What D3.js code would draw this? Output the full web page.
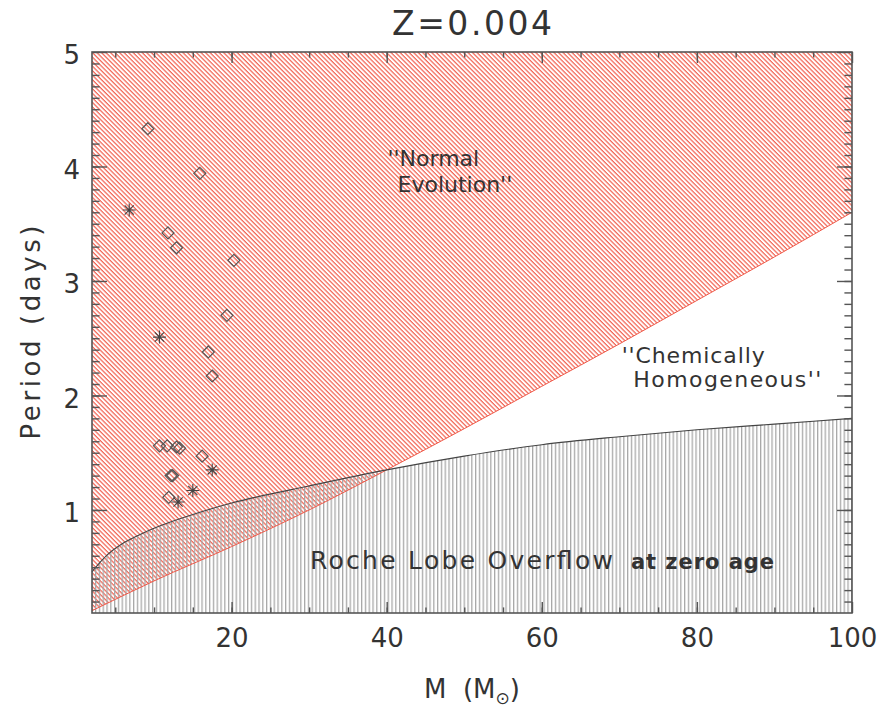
<!DOCTYPE html>
<html>
<head>
<meta charset="utf-8">
<script src="https://cdn.jsdelivr.net/npm/d3@7"></script>
<style>
  body { margin: 0; background: #fff; }
  text { font-family: "DejaVu Sans", sans-serif; fill: #333; }
</style>
</head>
<body>
<svg class="chart"></svg>
<script>
// period vs mass, Z=0.004
var width = 882,
    height = 708;
var margin = {left: 92, right: 30, top: 52, bottom: 95};

// lower edge of the "normal evolution" zone
var normalM = [2, 10, 20, 30, 40, 50, 60, 70, 80, 90, 100];
var normalP = [0.12, 0.38, 0.68, 1.00, 1.35, 1.71, 2.08, 2.45, 2.83, 3.21, 3.60];

// Roche lobe overflow at zero age
var rocheM = [2, 3, 4, 6, 8, 10, 15, 20, 30, 40, 50, 60, 70, 80, 90, 100];
var rocheP = [0.46, 0.54, 0.61, 0.71, 0.78, 0.84, 0.96, 1.06, 1.21, 1.35, 1.47, 1.57, 1.64, 1.70, 1.75, 1.80];

// observed systems
var diamondM = [9.2, 15.9, 11.8, 12.9, 20.3, 19.4, 17.0, 17.5, 10.7, 11.7, 12.9, 13.3, 16.2, 12.2, 12.4, 11.9];
var diamondP = [4.33, 3.94, 3.42, 3.29, 3.18, 2.70, 2.38, 2.17, 1.56, 1.56, 1.55, 1.54, 1.47, 1.30, 1.30, 1.11];
var starM = [6.8, 10.7, 17.5, 15.0, 13.1];
var starP = [3.62, 2.51, 1.35, 1.17, 1.07];

var xTicks = [20, 40, 60, 80, 100];
var yTicks = [1, 2, 3, 4, 5];

var x = d3.scaleLinear().domain([2, 100]).range([margin.left, width - margin.right]);
var y = d3.scaleLinear().domain([0.1, 5]).range([height - margin.bottom, margin.top]);

var chart = d3.select(".chart")
    .attr("width", width)
    .attr("height", height);

var defs = chart.append("defs");

var red = defs.append("pattern") //diagonal red hatch
    .attr("id", "redHatch")
    .attr("patternUnits", "userSpaceOnUse")
    .attr("width", 3.2)
    .attr("height", 3.2)
    .attr("patternTransform", "rotate(45)");
red.append("rect")
    .attr("width", 3.2)
    .attr("height", 1.25)
    .attr("fill", "#f26656");

var grey = defs.append("pattern") //vertical grey hatch
    .attr("id", "greyHatch")
    .attr("patternUnits", "userSpaceOnUse")
    .attr("width", 3.8)
    .attr("height", 10);
grey.append("rect")
    .attr("width", 1.3)
    .attr("height", 10)
    .attr("fill", "#a8a8a8");

var normal = normalM.map(function(m, i) { return [m, normalP[i]]; });
var roche = rocheM.map(function(m, i) { return [m, rocheP[i]]; });

var redArea = d3.area()
    .x(function(d) { return x(d[0]); })
    .y0(y(5))
    .y1(function(d) { return y(d[1]); })
    .curve(d3.curveMonotoneX);

var greyArea = d3.area()
    .x(function(d) { return x(d[0]); })
    .y0(y(0.1))
    .y1(function(d) { return y(d[1]); })
    .curve(d3.curveMonotoneX);

var line = d3.line()
    .x(function(d) { return x(d[0]); })
    .y(function(d) { return y(d[1]); })
    .curve(d3.curveMonotoneX);

chart.append("path")
    .attr("d", redArea(normal))
    .attr("fill", "url(#redHatch)");

chart.append("path")
    .attr("d", greyArea(roche))
    .attr("fill", "url(#greyHatch)");

chart.append("path")
    .attr("d", line(normal))
    .attr("fill", "none")
    .attr("stroke", "#f05a4a")
    .attr("stroke-width", 1);

chart.append("path")
    .attr("d", line(roche))
    .attr("fill", "none")
    .attr("stroke", "#444")
    .attr("stroke-width", 1.1);

// markers
chart.selectAll(".diamond")
    .data(diamondM)
  .enter().append("path")
    .attr("class", "diamond")
    .attr("d", function(d, i) {
      var cx = x(d), cy = y(diamondP[i]), r = 6;
      return "M" + cx + "," + (cy - r) + "L" + (cx + r) + "," + cy +
             "L" + cx + "," + (cy + r) + "L" + (cx - r) + "," + cy + "Z";
    })
    .attr("fill", "none")
    .attr("stroke", "#555")
    .attr("stroke-width", 1.2);

chart.selectAll(".star")
    .data(starM)
  .enter().append("path")
    .attr("class", "star")
    .attr("d", function(d, i) {
      var cx = x(d), cy = y(starP[i]), r = 6.5, s = 4.6;
      return "M" + (cx - r) + "," + cy + "L" + (cx + r) + "," + cy +
             "M" + cx + "," + (cy - r) + "L" + cx + "," + (cy + r) +
             "M" + (cx - s) + "," + (cy - s) + "L" + (cx + s) + "," + (cy + s) +
             "M" + (cx - s) + "," + (cy + s) + "L" + (cx + s) + "," + (cy - s);
    })
    .attr("fill", "none")
    .attr("stroke", "#444")
    .attr("stroke-width", 1.1);

// labels inside the plot
var labels = chart.append("g").attr("font-size", 22);
labels.append("text").attr("x", x(40.1)).attr("y", y(4.0)).text("''Normal");
labels.append("text").attr("x", x(41.4)).attr("y", y(3.78)).text("Evolution''");
labels.append("text").attr("x", x(70.3)).attr("y", y(2.28)).attr("textLength", 143).text("''Chemically");
labels.append("text").attr("x", x(71.8)).attr("y", y(2.07)).attr("textLength", 188).text("Homogeneous''");

chart.append("text")
    .attr("x", x(30.1))
    .attr("y", y(0.48))
    .attr("font-size", 25)
    .attr("textLength", 303)
    .attr("lengthAdjust", "spacing")
    .text("Roche  Lobe  Overflow");

chart.append("text")
    .attr("x", x(71.5))
    .attr("y", y(0.48))
    .attr("font-size", 21)
    .attr("font-weight", "bold")
    .attr("fill", "#222")
    .attr("textLength", 143)
    .attr("lengthAdjust", "spacing")
    .text("at zero age");

// axes, IDL style: ticks point inward on all four sides
var minorX = d3.range(5, 100, 5);
var minorY = d3.range(0.2, 5, 0.1).map(function(v) { return Math.round(v * 10) / 10; });
var plotW = width - margin.left - margin.right,
    plotH = height - margin.top - margin.bottom;

function drawAxis(axis, tx, ty) {
  var g = chart.append("g")
      .attr("transform", "translate(" + tx + "," + ty + ")")
      .call(axis);
  g.select(".domain").remove();
  g.selectAll("line").attr("stroke", "#555").attr("stroke-width", 1.4);
  return g;
}

drawAxis(d3.axisBottom(x).tickValues(minorX).tickSize(-5.6).tickFormat(""), 0, y(0.1));
drawAxis(d3.axisTop(x).tickValues(minorX).tickSize(-5.6).tickFormat(""), 0, y(5));
drawAxis(d3.axisLeft(y).tickValues(minorY).tickSize(-7.6).tickFormat(""), x(2), 0);
drawAxis(d3.axisRight(y).tickValues(minorY).tickSize(-7.6).tickFormat(""), x(100), 0);
drawAxis(d3.axisTop(x).tickValues(xTicks).tickSize(-11).tickFormat(""), 0, y(5));
drawAxis(d3.axisRight(y).tickValues(yTicks).tickSize(-15).tickFormat(""), x(100), 0);

var xb = drawAxis(d3.axisBottom(x).tickValues(xTicks).tickSize(-11).tickPadding(16).tickFormat(d3.format("d")), 0, y(0.1));
xb.selectAll("text")
    .attr("font-size", 26)
    .attr("font-family", "DejaVu Sans")
    .attr("fill", "#333");

var yl = drawAxis(d3.axisLeft(y).tickValues(yTicks).tickSize(-15).tickPadding(12).tickFormat(d3.format("d")), x(2), 0);
yl.selectAll("text")
    .attr("font-size", 26)
    .attr("font-family", "DejaVu Sans")
    .attr("fill", "#333")
    .attr("dy", "0.45em");

chart.append("rect") //plot frame
    .attr("x", x(2))
    .attr("y", y(5))
    .attr("width", plotW)
    .attr("height", plotH)
    .attr("fill", "none")
    .attr("stroke", "#555")
    .attr("stroke-width", 1.6);

// titles
chart.append("text")
    .attr("x", (x(2) + x(100)) / 2)
    .attr("y", 35)
    .attr("text-anchor", "middle")
    .attr("font-size", 33)
    .attr("textLength", 160)
    .attr("lengthAdjust", "spacing")
    .text("Z=0.004");

chart.append("text")
    .attr("transform", "translate(40," + (y(0.1) + y(5)) / 2 + ") rotate(-90)")
    .attr("text-anchor", "middle")
    .attr("font-size", 26)
    .attr("textLength", 214)
    .attr("lengthAdjust", "spacing")
    .text("Period  (days)");

var xlab = chart.append("text")
    .attr("x", (x(2) + x(100)) / 2)
    .attr("y", 698)
    .attr("text-anchor", "middle")
    .attr("font-size", 26)
    .style("white-space", "pre");
xlab.append("tspan").text("M  (M");
xlab.append("tspan").attr("font-size", 17).attr("dy", 6).text("⊙");
xlab.append("tspan").attr("dy", -6).text(")");
</script>
</body>
</html>
